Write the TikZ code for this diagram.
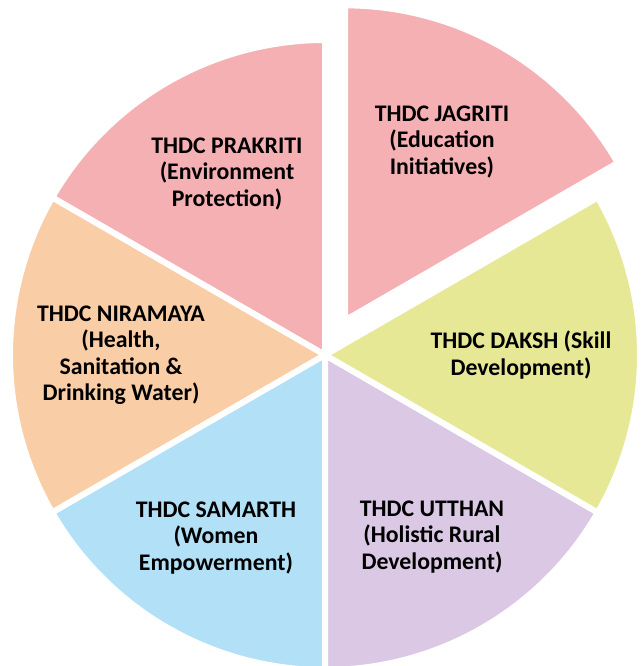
\documentclass[tikz,border=0pt]{standalone}
\usepackage{fontspec}
\setmainfont{Carlito}
\usepackage{tikz}
\definecolor{thdcpink}{RGB}{245,176,180}
\definecolor{thdclime}{RGB}{230,232,150}
\definecolor{thdclilac}{RGB}{218,200,228}
\definecolor{thdcsky}{RGB}{178,224,246}
\definecolor{thdcpeach}{RGB}{249,205,165}

\begin{document}
\begin{tikzpicture}[
  x=1pt, y=1pt,
  slice/.style={draw=white, line width=6pt, line join=round},
  label/.style={align=center, inner sep=0pt, font=\bfseries\fontsize{23.8}{26.5}\selectfont}
]
\useasboundingbox (-325,-311) rectangle (318,355);

% Pie slices
\coordinate (c) at (0,0);
\coordinate (cj) at (60:40);
\filldraw[slice, fill=thdcpink] (cj) -- ++(30:315) arc (30:90:315) -- cycle;
\filldraw[slice, fill=thdcpink] (c) -- (90:315) arc (90:150:315) -- cycle;
\filldraw[slice, fill=thdcpeach] (c) -- (150:315) arc (150:210:315) -- cycle;
\filldraw[slice, fill=thdcsky] (c) -- (210:315) arc (210:270:315) -- cycle;
\filldraw[slice, fill=thdclilac] (c) -- (270:315) arc (270:330:315) -- cycle;
\filldraw[slice, fill=thdclime] (c) -- (-30:315) arc (-30:30:315) -- cycle;

% Labels
\node[label] (jagriti) at (117,213) {THDC JAGRITI\\(Education\\Initiatives)};
\node[label] (prakriti) at (-98,181) {THDC PRAKRITI\\(Environment\\Protection)};
\node[label] (niramaya) at (-204,0) {THDC NIRAMAYA\\(Health,\\Sanitation \&\\Drinking Water)};
\node[label] (samarth) at (-109,-183) {THDC SAMARTH\\(Women\\Empowerment)};
\node[label] (utthan) at (107,-182) {THDC UTTHAN\\(Holistic Rural\\Development)};
\node[label] (daksh) at (196,0) {THDC DAKSH (Skill\\Development)};

\end{tikzpicture}
\end{document}
